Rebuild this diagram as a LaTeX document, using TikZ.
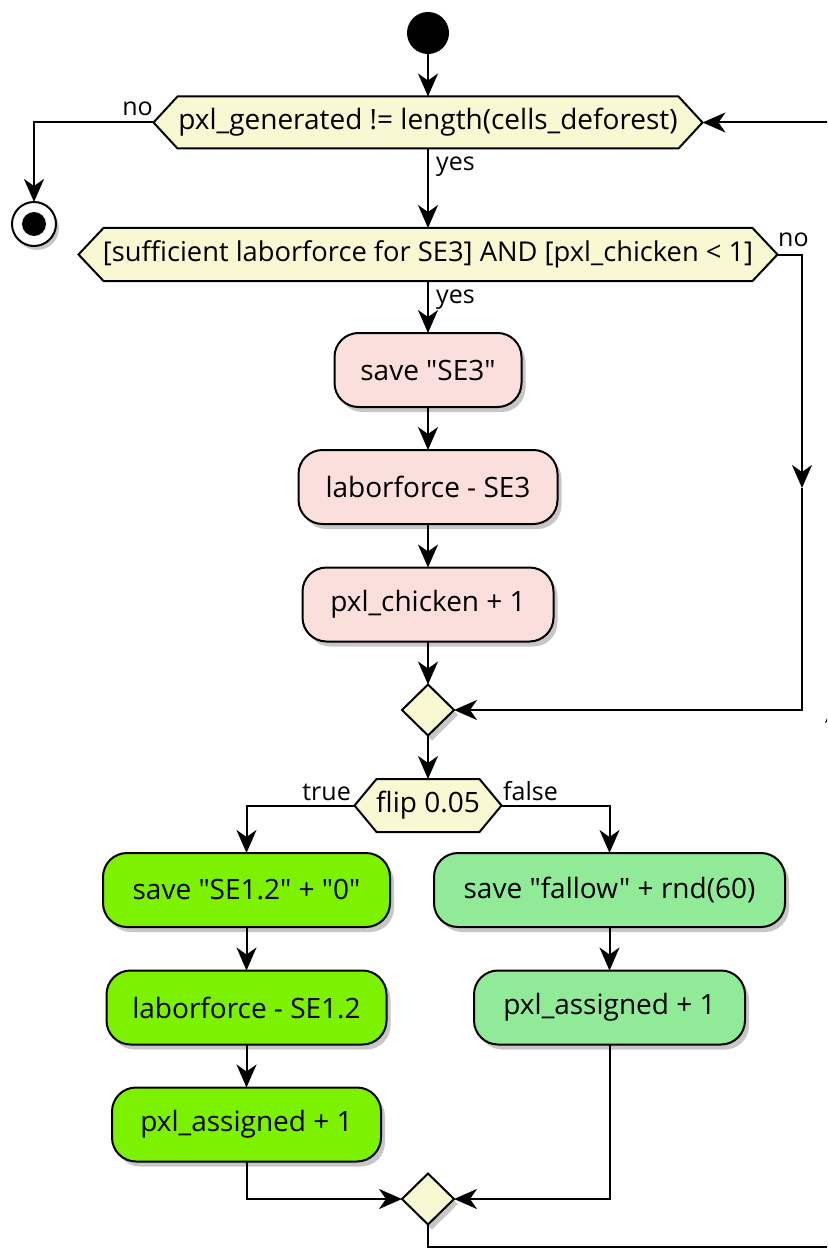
\documentclass[tikz,border=0pt]{standalone}
\usepackage{fontspec}
\setmainfont{Open Sans}[Ligatures=TeXOff]
\usetikzlibrary{arrows.meta,shapes.geometric,shadows,backgrounds,calc}
\definecolor{hexfill}{HTML}{F8F8D2}
\definecolor{pinkfill}{HTML}{FBDFDD}
\definecolor{greenA}{HTML}{7CF200}
\definecolor{greenB}{HTML}{90EA98}
\newcommand\boxfont{\fontsize{28}{32}\selectfont}
\newcommand\lblfont{\fontsize{25}{28}\selectfont}
\newcommand\hexdraw[2]{%
  \begin{scope}[on background layer]
    \path[fill=black,opacity=0.22,shift={(4,5)}] (#1.west) -- ($(#1.north west)+(#2,0)$) -- ($(#1.north east)+(-#2,0)$) -- (#1.east) -- ($(#1.south east)+(-#2,0)$) -- ($(#1.south west)+(#2,0)$) -- cycle;
    \path[draw=black,line width=2,fill=hexfill,line join=miter] (#1.west) -- ($(#1.north west)+(#2,0)$) -- ($(#1.north east)+(-#2,0)$) -- (#1.east) -- ($(#1.south east)+(-#2,0)$) -- ($(#1.south west)+(#2,0)$) -- cycle;
  \end{scope}}
\tikzset{
  hexbox/.style={rectangle,inner sep=0,outer sep=0,font=\boxfont},
  act/.style={rectangle,rounded corners=24,draw=black,line width=2,inner sep=0,outer sep=0,
    minimum height=74,font=\boxfont,
    drop shadow={shadow xshift=4pt,shadow yshift=-5pt,opacity=0.22,fill=black}},
  merge/.style={diamond,draw=black,line width=2,fill=hexfill,inner sep=0,outer sep=0,
    minimum width=52,minimum height=51,
    drop shadow={shadow xshift=4pt,shadow yshift=-5pt,opacity=0.22,fill=black}},
  conn/.style={line width=2,draw=black},
  arr/.style={conn,-{Stealth[length=23pt,width=20pt,inset=7pt]}},
  lbl/.style={font=\lblfont,inner sep=0}
}
\begin{document}
\begin{tikzpicture}[x=1pt,y=-1pt]
\useasboundingbox (0,0) rectangle (827,1249);
\clip (0,0) rectangle (827,1249);

% start / end
\node[circle,fill=black,minimum size=42,inner sep=0,outer sep=0] (start) at (428,33) {};
\node[circle,draw=black,line width=2,fill=white,minimum size=44,inner sep=0,outer sep=0,
  drop shadow={shadow xshift=3pt,shadow yshift=-4pt,opacity=0.22,fill=black}] (end) at (34,224) {};
\node[circle,fill=black,minimum size=24,inner sep=0] (endin) at (end) {};

% decisions
\node[hexbox,minimum width=549,minimum height=52] (d1) at (428,122.5) {pxl\_generated != length(cells\_deforest)};
\hexdraw{d1}{24}
\node[hexbox,minimum width=699,minimum height=53,font=\fontsize{27.3}{31}\selectfont] (d2) at (428,254.5) {[sufficient laborforce for SE3] AND [pxl\_chicken < 1]};
\hexdraw{d2}{25}
\node[hexbox,minimum width=147,minimum height=53] (d3) at (428,805.5) {flip 0.05};
\hexdraw{d3}{22}

% activities
\node[act,fill=pinkfill,minimum width=187] (b1) at (428,370) {save "SE3"};
\node[act,fill=pinkfill,minimum width=259] (b2) at (428,487) {laborforce - SE3};
\node[act,fill=pinkfill,minimum width=251] (b3) at (428,604.5) {pxl\_chicken + 1};
\node[merge] (m1) at (428,710) {};

\node[act,fill=greenA,minimum width=287] (l1) at (246.5,890) {save "SE1.2" + "0"};
\node[act,fill=greenA,minimum width=280] (l2) at (246.5,1007.5) {laborforce - SE1.2};
\node[act,fill=greenA,minimum width=269] (l3) at (246.5,1124.5) {pxl\_assigned + 1};
\node[act,fill=greenB,minimum width=351] (r1) at (609.5,890) {save "fallow" + rnd(60)};
\node[act,fill=greenB,minimum width=271] (r2) at (609.5,1007.5) {pxl\_assigned + 1};
\node[merge] (m2) at (428,1199) {};

% labels
\node[lbl,anchor=base east] (lno1) at (153,116) {no};
\node[lbl,anchor=base west] (lyes1) at (436,171) {yes};
\node[lbl,anchor=base west] (lno2) at (778,247) {no};
\node[lbl,anchor=base west] (lyes2) at (436,303) {yes};
\node[lbl,anchor=base east] (ltrue) at (351,800) {true};
\node[lbl,anchor=base west] (lfalse) at (503,800) {false};

% helper coordinates
\coordinate (nmid) at (802,488);
\coordinate (lc1) at (835,1247);
\coordinate (lmid) at (835,700);

% connectors
\draw[arr] (start) -- (d1.north);
\draw[arr] (d1.west) -| (end.north);
\draw[arr] (d1.south) -- (d2.north);
\draw[arr] (d2.east) -| (nmid);
\draw[arr] (nmid) |- (m1.east);
\draw[arr] (d2.south) -- (b1.north);
\draw[arr] (b1.south) -- (b2.north);
\draw[arr] (b2.south) -- (b3.north);
\draw[arr] (b3.south) -- (m1.north);
\draw[arr] (m1.south) -- (d3.north);
\draw[arr] (d3.west) -| (l1.north);
\draw[arr] (d3.east) -| (r1.north);
\draw[arr] (l1.south) -- (l2.north);
\draw[arr] (l2.south) -- (l3.north);
\draw[arr] (r1.south) -- (r2.north);
\draw[arr] (l3.south) |- (m2.west);
\draw[arr] (r2.south) |- (m2.east);
\draw[conn] (m2.south) |- (lc1);
\draw[arr] (lc1) -- (lmid);
\draw[arr] (lmid) |- (d1.east);
\end{tikzpicture}
\end{document}
